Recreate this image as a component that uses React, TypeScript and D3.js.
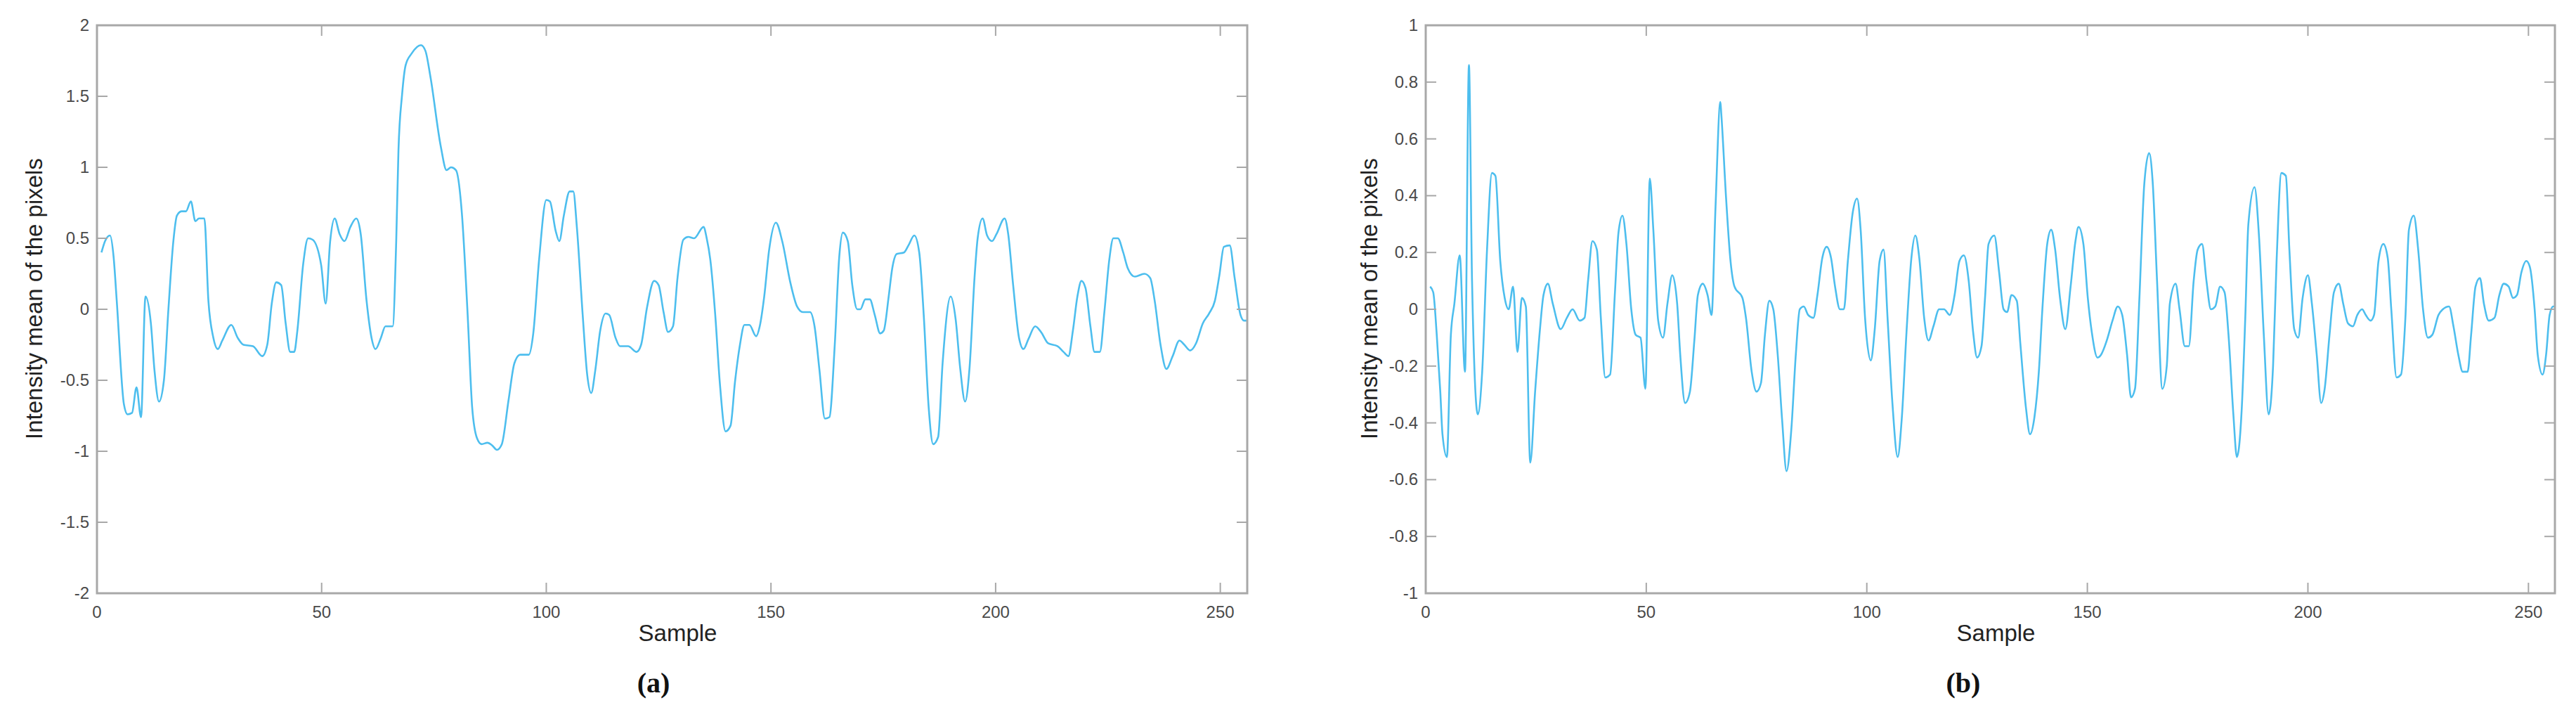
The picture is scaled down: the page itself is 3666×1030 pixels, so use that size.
import React from 'react';
import * as d3 from 'd3';

const sampleTicks = [0, 50, 100, 150, 200, 250];
const yTicksA = [-2, -1.5, -1, -0.5, 0, 0.5, 1, 1.5, 2];
const yTicksB = [-1, -0.8, -0.6, -0.4, -0.2, 0, 0.2, 0.4, 0.6, 0.8, 1];

const samplesA = [1, 1.8, 2.9, 3.7, 4.4, 6.0, 6.8, 7.8, 8.8, 9.8, 10.8, 12.0, 12.8, 13.8, 14.9, 15.9, 17.0, 17.8, 18.8, 19.8, 20.9, 21.9, 22.7, 23.9, 24.8, 25.9, 26.9, 27.9, 29.9, 31.3, 32.6, 34.7, 36.8, 37.9, 38.9, 39.9, 41.0, 42.0, 43.0, 43.9, 44.6, 45.9, 47.0, 48.0, 49.9, 50.9, 51.9, 52.9, 54.0, 55.1, 56.4, 57.7, 58.7, 60.0, 61.1, 62.0, 63.2, 64.2, 65.8, 66.6, 67.1, 67.9, 68.7, 70.0, 72.1, 73.1, 74.2, 76.5, 77.8, 78.8, 79.9, 81.2, 82.5, 83.5, 84.6, 85.6, 86.9, 88.0, 89.0, 90.1, 91.6, 92.9, 94.2, 96.1, 97.1, 98.4, 100.0, 100.8, 102.1, 102.9, 103.9, 105.2, 106.0, 106.8, 108.1, 109.1, 110.0, 110.9, 112.0, 113.2, 114.0, 115.4, 116.4, 118.2, 120.1, 121.1, 122.4, 124.0, 125.0, 126.1, 127.1, 128.2, 129.2, 130.5, 131.6, 132.9, 135.0, 135.7, 136.5, 137.6, 138.6, 139.9, 141.0, 142.0, 143.1, 144.1, 145.2, 146.7, 147.5, 148.5, 149.6, 151.1, 152.5, 154.3, 155.8, 157.1, 158.7, 159.7, 160.8, 162.0, 163.0, 164.2, 165.2, 166.0, 167.1, 168.1, 169.2, 169.9, 171.0, 172.0, 173.1, 174.3, 175.1, 176.2, 177.0, 178.0, 179.6, 180.6, 181.9, 183.0, 184.0, 185.1, 186.1, 187.2, 188.2, 190.0, 191.1, 192.1, 193.2, 194.2, 195.3, 196.0, 197.1, 198.1, 199.2, 200.2, 202.0, 202.8, 203.9, 205.2, 206.2, 207.3, 208.8, 210.1, 211.7, 213.8, 215.1, 216.2, 217.2, 218.2, 219.1, 220.0, 221.1, 222.0, 223.2, 224.2, 225.3, 226.2, 227.2, 228.4, 229.4, 231.0, 233.1, 234.4, 235.4, 236.7, 238.0, 239.4, 240.9, 242.0, 243.3, 244.6, 246.1, 247.5, 248.8, 249.8, 250.8, 252.1, 253.2, 254.5, 255.3, 256.0];
const valuesA = [0.40, 0.48, 0.52, 0.37, 0.06, -0.67, -0.74, -0.73, -0.55, -0.76, 0.09, -0.10, -0.43, -0.65, -0.50, 0.00, 0.48, 0.66, 0.69, 0.69, 0.76, 0.62, 0.64, 0.64, 0.06, -0.20, -0.28, -0.22, -0.11, -0.20, -0.25, -0.26, -0.33, -0.25, 0.04, 0.19, 0.17, -0.10, -0.30, -0.30, -0.15, 0.32, 0.50, 0.49, 0.31, 0.04, 0.48, 0.64, 0.53, 0.48, 0.58, 0.64, 0.53, 0.06, -0.20, -0.28, -0.20, -0.12, -0.12, 0.48, 1.12, 1.51, 1.72, 1.80, 1.86, 1.82, 1.64, 1.15, 0.98, 1.00, 0.98, 0.68, -0.04, -0.69, -0.91, -0.95, -0.94, -0.96, -0.99, -0.95, -0.64, -0.38, -0.32, -0.32, -0.17, 0.35, 0.77, 0.76, 0.55, 0.48, 0.66, 0.83, 0.83, 0.58, -0.04, -0.46, -0.59, -0.43, -0.15, -0.03, -0.04, -0.20, -0.26, -0.26, -0.30, -0.25, 0.01, 0.20, 0.17, -0.02, -0.16, -0.12, 0.22, 0.49, 0.51, 0.50, 0.58, 0.50, 0.35, -0.04, -0.51, -0.86, -0.82, -0.51, -0.25, -0.11, -0.11, -0.19, -0.12, 0.09, 0.42, 0.61, 0.48, 0.19, 0.02, -0.02, -0.02, -0.12, -0.43, -0.77, -0.76, -0.25, 0.37, 0.54, 0.48, 0.17, 0.00, 0.00, 0.07, 0.07, -0.04, -0.17, -0.15, 0.09, 0.29, 0.39, 0.40, 0.45, 0.52, 0.40, -0.04, -0.69, -0.95, -0.90, -0.38, 0.09, -0.07, -0.41, -0.65, -0.41, 0.22, 0.50, 0.64, 0.52, 0.48, 0.53, 0.64, 0.53, 0.17, -0.20, -0.28, -0.21, -0.12, -0.16, -0.24, -0.26, -0.30, -0.33, -0.15, 0.09, 0.20, 0.15, -0.12, -0.30, -0.30, -0.02, 0.35, 0.50, 0.50, 0.40, 0.29, 0.23, 0.25, 0.22, 0.06, -0.25, -0.42, -0.33, -0.22, -0.25, -0.29, -0.24, -0.10, -0.03, 0.06, 0.24, 0.44, 0.45, 0.22, -0.04, -0.08, -0.08];

const samplesB = [1.0, 1.7, 2.5, 3.3, 3.8, 4.8, 5.7, 6.5, 7.7, 8.9, 9.8, 10.5, 11.8, 12.8, 13.9, 15.0, 15.8, 16.9, 17.9, 18.8, 19.8, 20.8, 21.8, 22.7, 23.7, 24.8, 25.9, 26.7, 27.7, 28.8, 30.6, 32.0, 33.3, 34.9, 36.0, 36.8, 37.8, 38.8, 39.7, 40.7, 41.8, 42.9, 43.7, 44.6, 45.5, 46.6, 47.6, 48.7, 49.8, 50.8, 51.6, 52.7, 53.8, 54.8, 55.9, 57.0, 57.7, 58.8, 59.9, 60.9, 61.7, 62.8, 63.9, 64.8, 65.7, 66.8, 67.0, 68.1, 69.1, 70.0, 71.8, 72.6, 73.9, 75.0, 76.0, 76.9, 77.9, 78.8, 79.8, 80.8, 81.8, 82.9, 83.9, 84.8, 85.7, 86.7, 87.9, 88.8, 89.9, 90.9, 91.9, 92.8, 93.9, 94.8, 95.7, 96.8, 97.8, 98.6, 99.6, 100.9, 101.8, 102.9, 103.8, 104.7, 105.8, 107.0, 107.9, 109.0, 110.1, 111.0, 111.9, 113.0, 114.0, 115.1, 116.4, 117.5, 118.8, 119.9, 121.0, 122.0, 123.1, 124.1, 125.0, 126.0, 126.8, 127.6, 128.9, 130.0, 131.0, 131.8, 132.8, 134.0, 134.8, 136.1, 137.0, 138.0, 139.0, 139.8, 140.9, 141.8, 142.7, 143.8, 145.0, 146.2, 147.3, 148.0, 149.1, 150.1, 151.0, 152.3, 153.1, 154.4, 155.7, 156.9, 157.9, 159.0, 159.9, 160.8, 161.8, 162.9, 164.0, 164.8, 165.8, 167.0, 168.0, 168.7, 170.0, 170.9, 172.1, 173.0, 174.1, 175.0, 176.0, 177.0, 178.0, 179.0, 180.1, 181.1, 182.0, 183.1, 183.9, 185.0, 185.8, 186.5, 187.9, 188.9, 190.0, 191.1, 192.1, 192.9, 194.0, 195.0, 195.8, 196.9, 197.8, 198.8, 200.0, 200.9, 202.0, 203.0, 203.8, 204.9, 205.9, 207.0, 208.0, 209.1, 210.2, 211.2, 212.3, 213.1, 214.2, 215.0, 216.0, 217.1, 218.1, 218.9, 220.1, 221.1, 222.1, 222.9, 224.0, 225.0, 226.1, 227.2, 228.2, 229.6, 230.6, 232.0, 233.0, 234.1, 235.1, 236.2, 237.0, 238.0, 239.0, 239.9, 241.0, 242.3, 243.4, 244.4, 245.5, 246.5, 247.4, 248.4, 249.5, 250.3, 251.4, 252.1, 253.2, 254.0, 254.8, 255.6, 256.0];
const valuesB = [0.08, 0.06, -0.09, -0.29, -0.44, -0.52, -0.09, 0.02, 0.19, -0.22, 0.86, 0.10, -0.37, -0.22, 0.21, 0.48, 0.47, 0.17, 0.04, 0.00, 0.08, -0.15, 0.04, 0.01, -0.54, -0.29, -0.07, 0.05, 0.09, 0.02, -0.07, -0.03, 0.00, -0.04, -0.03, 0.10, 0.24, 0.21, -0.03, -0.24, -0.23, 0.06, 0.27, 0.33, 0.23, 0.00, -0.09, -0.10, -0.28, 0.46, 0.28, -0.04, -0.10, 0.02, 0.12, 0.02, -0.16, -0.33, -0.29, -0.11, 0.05, 0.09, 0.05, -0.02, 0.36, 0.73, 0.69, 0.39, 0.17, 0.08, 0.04, -0.03, -0.22, -0.29, -0.26, -0.09, 0.03, 0.00, -0.16, -0.39, -0.57, -0.42, -0.16, 0.00, 0.01, -0.02, -0.03, 0.05, 0.18, 0.22, 0.18, 0.08, 0.00, 0.00, 0.17, 0.34, 0.39, 0.28, -0.03, -0.18, -0.07, 0.17, 0.21, -0.03, -0.33, -0.52, -0.39, -0.08, 0.18, 0.26, 0.18, -0.03, -0.11, -0.06, 0.00, 0.00, -0.02, 0.05, 0.17, 0.19, 0.10, -0.08, -0.17, -0.13, 0.04, 0.23, 0.26, 0.13, 0.00, -0.01, 0.05, 0.03, -0.12, -0.35, -0.44, -0.38, -0.22, 0.00, 0.23, 0.28, 0.21, 0.04, -0.07, 0.08, 0.24, 0.29, 0.23, 0.04, -0.08, -0.17, -0.16, -0.11, -0.04, 0.01, -0.02, -0.16, -0.31, -0.28, 0.04, 0.44, 0.55, 0.45, 0.10, -0.28, -0.20, 0.02, 0.09, 0.00, -0.13, -0.13, 0.10, 0.21, 0.23, 0.10, 0.00, 0.01, 0.08, 0.06, -0.09, -0.37, -0.52, -0.35, -0.03, 0.30, 0.43, 0.26, -0.09, -0.37, -0.20, 0.17, 0.48, 0.47, 0.21, -0.07, -0.10, 0.04, 0.12, 0.02, -0.16, -0.33, -0.28, -0.09, 0.06, 0.09, 0.02, -0.05, -0.06, -0.02, 0.00, -0.02, -0.04, -0.02, 0.17, 0.23, 0.18, 0.00, -0.24, -0.23, -0.03, 0.28, 0.33, 0.21, 0.00, -0.10, -0.09, -0.02, 0.00, 0.01, -0.06, -0.16, -0.22, -0.22, -0.09, 0.08, 0.11, 0.02, -0.04, -0.03, 0.05, 0.09, 0.08, 0.04, 0.05, 0.13, 0.17, 0.15, 0.00, -0.16, -0.23, -0.16, -0.02, 0.01, 0.01];

const FONT = '"Liberation Sans", Arial, Helvetica, sans-serif';
const BOX = '#a8a8a8';
const TXT = '#4a4a4a';
const LINE = '#4DBEEE';

type PanelProps = {
  left: number; right: number; top: number; bottom: number;
  yDomain: [number, number]; yTicks: number[];
  samples: number[]; values: number[];
  yLabelX: number; yLabelY: number; caption: string; captionX: number;
};

function Panel(p: PanelProps) {
  const x = d3.scaleLinear().domain([0, 256]).range([p.left, p.right]);
  const y = d3.scaleLinear().domain(p.yDomain).range([p.bottom, p.top]);
  const pts: [number, number][] = p.samples.map((s, i) => [s, p.values[i]]);
  const line = d3.line<[number, number]>().x(d => x(d[0])).y(d => y(d[1])).curve(d3.curveMonotoneX);
  const tl = 15;
  const midX = (p.left + p.right) / 2;
  return (
    <g>
      <path d={line(pts) || ''} fill="none" stroke={LINE} strokeWidth={2.6} strokeLinejoin="round" />
      <rect x={p.left} y={p.top} width={p.right - p.left} height={p.bottom - p.top} fill="none" stroke={BOX} strokeWidth={3} />
      {sampleTicks.map(t => (
        <g key={'x' + t}>
          <line x1={x(t)} x2={x(t)} y1={p.bottom} y2={p.bottom - tl} stroke={BOX} strokeWidth={2} />
          <line x1={x(t)} x2={x(t)} y1={p.top} y2={p.top + tl} stroke={BOX} strokeWidth={2} />
          <text x={x(t)} y={p.bottom + 35} textAnchor="middle" fontSize={24} fill={TXT} fontFamily={FONT}>{t}</text>
        </g>
      ))}
      {p.yTicks.map(t => (
        <g key={'y' + t}>
          <line x1={p.left} x2={p.left + tl} y1={y(t)} y2={y(t)} stroke={BOX} strokeWidth={2} />
          <line x1={p.right} x2={p.right - tl} y1={y(t)} y2={y(t)} stroke={BOX} strokeWidth={2} />
          <text x={p.left - 11} y={y(t) + 8} textAnchor="end" fontSize={24} fill={TXT} fontFamily={FONT}>{String(t)}</text>
        </g>
      ))}
      <text x={midX + 8} y={p.bottom + 68} textAnchor="middle" fontSize={33} fill="#222" fontFamily={FONT}>Sample</text>
      <text transform={`translate(${p.yLabelX},${p.yLabelY}) rotate(-90)`} textAnchor="middle" fontSize={33} fill="#222" fontFamily={FONT}>Intensity mean of the pixels</text>
      <text x={p.captionX} y={985} textAnchor="middle" fontSize={40} fontWeight="bold" fill="#111" fontFamily='"Liberation Serif", "DejaVu Serif", serif'>{p.caption}</text>
    </g>
  );
}

export default function App() {
  return (
    <svg width={3666} height={1030} style={{ position: 'absolute', left: 0, top: 0, background: '#fff' }}>
      <rect x={0} y={0} width={3666} height={1030} fill="#fff" />
      <Panel left={138} right={1775} top={36} bottom={844} yDomain={[-2, 2]} yTicks={yTicksA}
        samples={samplesA} values={valuesA} yLabelX={60} yLabelY={425} caption="(a)" captionX={930} />
      <Panel left={2029} right={3636} top={36} bottom={844} yDomain={[-1, 1]} yTicks={yTicksB}
        samples={samplesB} values={valuesB} yLabelX={1960} yLabelY={425} caption="(b)" captionX={2794} />
    </svg>
  );
}
